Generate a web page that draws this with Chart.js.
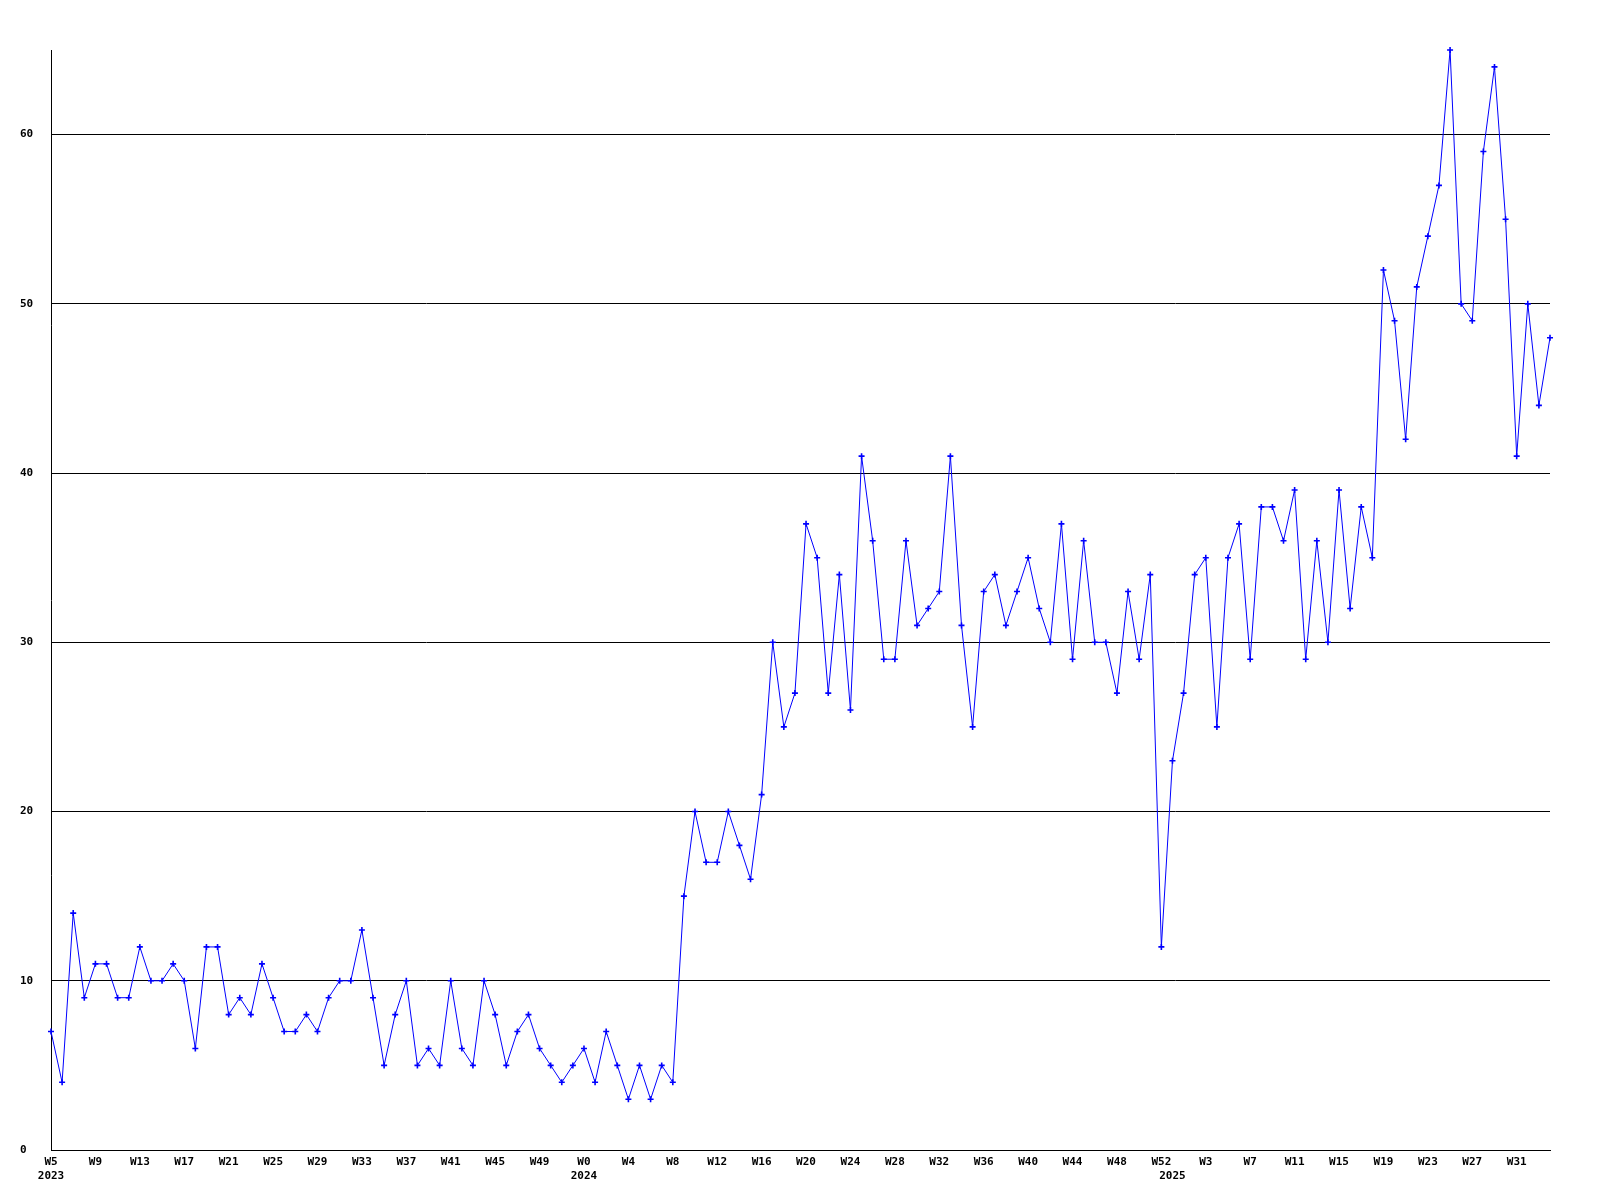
<!DOCTYPE html>
<html>
<head>
<meta charset="utf-8">
<title>Weekly count</title>
<script src="https://cdn.jsdelivr.net/npm/chart.js@4.4.1/dist/chart.umd.min.js"></script>
<style>
  html, body { margin: 0; padding: 0; background: #fff; }
  #weekChart { display: block; }
</style>
</head>
<body>
<canvas id="weekChart" width="1600" height="1200"></canvas>
<script>
// weekly values, one list per year
var years = [2023, 2024, 2025];
var firstWeeks = [5, 0, 0];
var counts2023 = [7, 4, 14, 9, 11, 11, 9, 9, 12, 10, 10, 11, 10, 6, 12, 12, 8, 9, 8, 11, 9, 7, 7, 8,
                  7, 9, 10, 10, 13, 9, 5, 8, 10, 5, 6, 5, 10, 6, 5, 10, 8, 5, 7, 8, 6, 5, 4, 5];
var counts2024 = [6, 4, 7, 5, 3, 5, 3, 5, 4, 15, 20, 17, 17, 20, 18, 16, 21, 30, 25, 27, 37, 35, 27, 34, 26, 41,
                  36, 29, 29, 36, 31, 32, 33, 41, 31, 25, 33, 34, 31, 33, 35, 32, 30, 37, 29, 36, 30, 30, 27, 33, 29, 34, 12];
var counts2025 = [23, 27, 34, 35, 25, 35, 37, 29, 38, 38, 36, 39, 29, 36, 30, 39, 32, 38, 35, 52, 49, 42, 51, 54,
                  57, 65, 50, 49, 59, 64, 55, 41, 50, 44, 48];
var yTicks = [0, 10, 20, 30, 40, 50, 60];
var yMax = 65;
var labelStep = 4;

var perYear = [counts2023, counts2024, counts2025];
var weekLabels = [];
var yearLabels = [];
var values = [];
for (var y = 0; y < years.length; y++) {
  for (var i = 0; i < perYear[y].length; i++) {
    weekLabels.push('W' + (firstWeeks[y] + i));
    yearLabels.push(i === 0 ? String(years[y]) : '');
    values.push(perYear[y][i]);
  }
}

var tickFont = { family: '"DejaVu Sans Mono", monospace', size: 11, weight: 'bold' };

new Chart(document.getElementById('weekChart').getContext('2d'), {
  type: 'line',
  data: {
    labels: weekLabels,
    datasets: [{
      data: values,
      borderColor: '#0000ff',
      backgroundColor: '#0000ff',
      borderWidth: 1,
      pointStyle: 'cross',
      pointRadius: 3,
      pointBorderWidth: 1.6,
      pointHoverRadius: 3,
      tension: 0,
      fill: false,
      clip: false
    }]
  },
  options: {
    responsive: false,
    animation: false,
    devicePixelRatio: 1,
    layout: { padding: { left: 20, top: 50, right: 50, bottom: 0 } },
    plugins: { legend: { display: false }, tooltip: { enabled: false } },
    scales: {
      x: {
        offset: false,
        grid: { display: false, drawTicks: false },
        border: { display: true, color: '#000', width: 1 },
        ticks: {
          autoSkip: false,
          maxRotation: 0,
          minRotation: 0,
          padding: 6,
          color: '#000',
          font: tickFont,
          callback: function (value, index) {
            var wk = index % labelStep === 0 ? weekLabels[index] : '';
            if (yearLabels[index]) return [wk, yearLabels[index]];
            return wk;
          }
        },
        afterFit: function (scale) { scale.height = 50; }
      },
      y: {
        min: 0,
        max: yMax,
        grid: { color: '#000', lineWidth: 1, drawTicks: false },
        border: { display: true, color: '#000', width: 1 },
        ticks: { color: '#000', font: tickFont, crossAlign: 'far', padding: 18 },
        afterBuildTicks: function (scale) {
          scale.ticks = yTicks.map(function (v) { return { value: v }; });
        },
        afterFit: function (scale) { scale.width = 31; }
      }
    }
  }
});
</script>
</body>
</html>
